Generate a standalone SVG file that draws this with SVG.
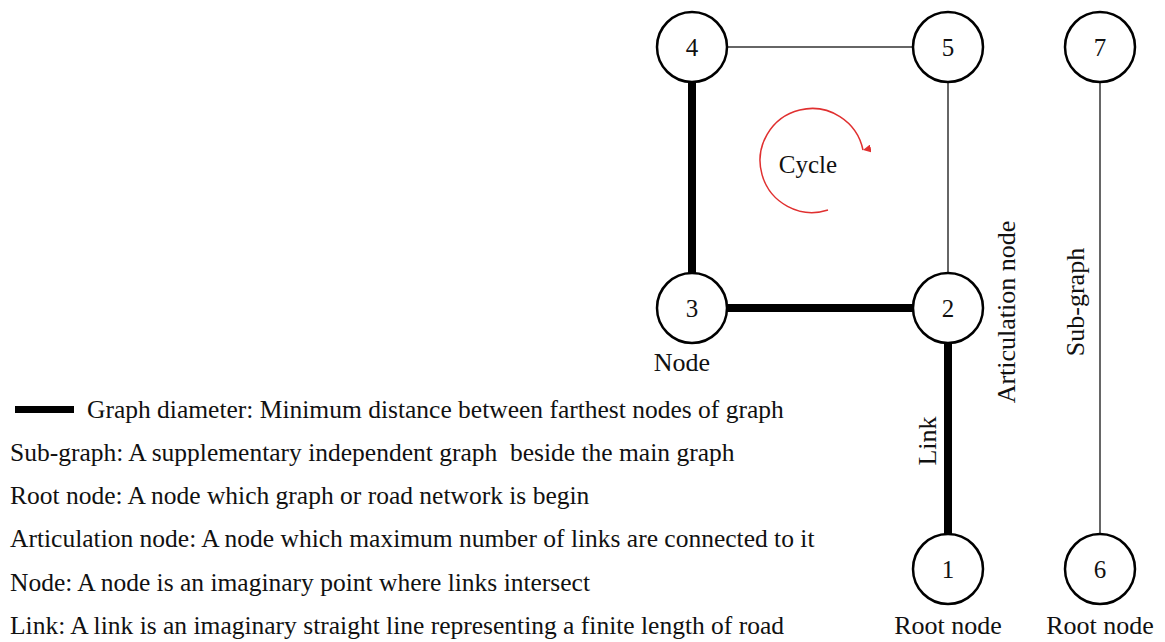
<svg xmlns="http://www.w3.org/2000/svg" width="1165" height="642" viewBox="0 0 1165 642">
<style>
.node circle{fill:#fff;stroke:#000;stroke-width:2.5}
.node text{font-family:"Liberation Serif",serif;font-size:25px;text-anchor:middle;fill:#111}
.thin{stroke:#333;stroke-width:1.5}
.thick{stroke:#000;stroke-width:8}
.lbl{font-family:"Liberation Serif",serif;font-size:26px;fill:#111}
.leg{font-family:"Liberation Serif",serif;font-size:25.5px;fill:#111;white-space:pre}
</style>
<defs>
<marker id="ah" viewBox="0 0 10 10" refX="5" refY="10" markerWidth="8" markerHeight="8" markerUnits="userSpaceOnUse" orient="auto">
<path d="M0,0 L10,0 L5,10 Z" fill="#e03030"/>
</marker>
</defs>
<rect width="1165" height="642" fill="#fff"/>
<g id="connectors">
<line class="thin" x1="727" y1="47" x2="913" y2="47"/>
<line class="thin" x1="948" y1="82" x2="948" y2="273"/>
<line class="thick" x1="692" y1="82" x2="692" y2="273"/>
<line class="thick" x1="727" y1="308" x2="913" y2="308"/>
<line class="thick" x1="948" y1="343" x2="948" y2="534"/>
<line class="thin" x1="1100" y1="82" x2="1100" y2="534"/>
</g>
<g id="node4" class="node"><circle cx="692" cy="47" r="35"/><text x="692" y="56">4</text></g>
<g id="node5" class="node"><circle cx="948" cy="47" r="35"/><text x="948" y="56">5</text></g>
<g id="node7" class="node"><circle cx="1100" cy="47" r="35"/><text x="1100" y="56">7</text></g>
<g id="node3" class="node"><circle cx="692" cy="308" r="35"/><text x="692" y="317">3</text></g>
<g id="node2" class="node"><circle cx="948" cy="308" r="35"/><text x="948" y="317">2</text></g>
<g id="node1" class="node"><circle cx="948" cy="569" r="35"/><text x="948" y="578">1</text></g>
<g id="node6" class="node"><circle cx="1100" cy="569" r="35"/><text x="1100" y="578">6</text></g>
<g id="cycle">
<path d="M828,210 A52,52 0 1 1 863,150" fill="none" stroke="#e03030" stroke-width="1.5" marker-end="url(#ah)"/>
<text class="lbl" x="808" y="173" text-anchor="middle" style="font-size:25px">Cycle</text>
</g>
<g id="labels">
<text class="lbl" x="682" y="371" text-anchor="middle">Node</text>
<text class="lbl" x="948" y="634" text-anchor="middle">Root node</text>
<text class="lbl" x="1100" y="634" text-anchor="middle">Root node</text>
<text class="lbl" transform="translate(936,441) rotate(-90)" text-anchor="middle">Link</text>
<text class="lbl" transform="translate(1015,312) rotate(-90)" text-anchor="middle">Articulation node</text>
<text class="lbl" transform="translate(1084,302) rotate(-90)" text-anchor="middle">Sub-graph</text>
</g>
<g id="legend">
<rect x="15" y="406" width="59" height="7" fill="#000"/>
<text class="leg" x="87" y="418">Graph diameter: Minimum distance between farthest nodes of graph</text>
<text class="leg" x="10" y="461">Sub-graph: A supplementary independent graph  beside the main graph</text>
<text class="leg" x="10" y="504">Root node: A node which graph or road network is begin</text>
<text class="leg" x="10" y="547">Articulation node: A node which maximum number of links are connected to it</text>
<text class="leg" x="10" y="591">Node: A node is an imaginary point where links intersect</text>
<text class="leg" x="10" y="634">Link: A link is an imaginary straight line representing a finite length of road</text>
</g>
</svg>
